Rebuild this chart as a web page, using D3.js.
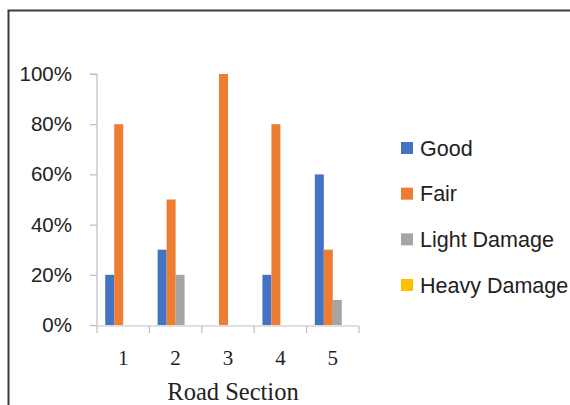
<!DOCTYPE html>
<html>
<head>
<meta charset="utf-8">
<script src="https://cdn.jsdelivr.net/npm/d3@7"></script>
<style>
html,body{margin:0;padding:0;background:#fff;}
svg{display:block;}
</style>
</head>
<body>
<script>
const categories = ["1","2","3","4","5"];
const seriesNames = ["Good","Fair","Light Damage","Heavy Damage"];
const good = [0.20,0.30,0.00,0.20,0.60];
const fair = [0.80,0.50,1.00,0.80,0.30];
const lightDamage = [0.00,0.20,0.00,0.00,0.10];
const heavyDamage = [0.00,0.00,0.00,0.00,0.00];
const yTicks = [0,0.2,0.4,0.6,0.8,1.0];
const colors = ["#4472C4","#ED7D31","#A5A5A5","#FFC000"];
const xTitle = "Road Section";

const seriesValues = [good, fair, lightDamage, heavyDamage];
const W = 570, H = 405;
const svg = d3.select("body").append("svg").attr("width", W).attr("height", H);

// outer frame (top and left visible)
svg.append("path")
  .attr("d", d3.line()([[8.5,H],[8.5,10.5],[W,10.5]]))
  .attr("fill","none").attr("stroke","#3a3a3a").attr("stroke-width",2);

const x = d3.scaleBand().domain(categories).range([97, 359]).padding(0);
const bw = x.bandwidth();
const xi = d3.scaleBand().domain(seriesNames).range([bw*0.157, bw*0.843]).padding(0);
const y = d3.scaleLinear().domain([0,1]).range([325, 74]);

// y axis
const yAxis = svg.append("g").attr("transform","translate(97,0)")
  .call(d3.axisLeft(y).tickValues(yTicks).tickFormat(d3.format(".0%")).tickSize(7).tickPadding(18));
yAxis.select(".domain").attr("stroke","#BFBFBF").attr("stroke-width",1.2)
  .attr("d", `M-7,${y(1)}H0V${y(0)}`);
yAxis.selectAll(".tick line").attr("stroke","#BFBFBF").attr("stroke-width",1.2);
yAxis.selectAll(".tick text").attr("fill","#222").style("font-family","'Liberation Sans', Arial, sans-serif").style("font-size","20.5px");

// bars
const groups = svg.append("g").selectAll("g").data(categories).join("g")
  .attr("transform", d => `translate(${x(d)},0)`);
groups.selectAll("rect")
  .data((c,i) => seriesNames.map((s,j) => ({s, v: seriesValues[j][i], c: colors[j]})))
  .join("rect")
  .attr("x", d => xi(d.s))
  .attr("width", xi.bandwidth())
  .attr("y", d => y(d.v))
  .attr("height", d => y(0) - y(d.v))
  .attr("fill", d => d.c);

// x axis
const xAxisG = svg.append("g").attr("transform",`translate(0,${y(0)+1})`);
xAxisG.append("line").attr("x1",97).attr("x2",359).attr("y1",0).attr("y2",0)
  .attr("stroke","#BFBFBF").attr("stroke-width",1.2);
const boundaries = categories.map(c => x(c)).concat([x(categories[categories.length-1]) + bw]);
xAxisG.selectAll("line.tk").data(boundaries).join("line").attr("class","tk")
  .attr("x1", d=>d).attr("x2", d=>d).attr("y1",0).attr("y2",7)
  .attr("stroke","#BFBFBF").attr("stroke-width",1.2);
xAxisG.selectAll("text").data(categories).join("text")
  .attr("x", d => x(d) + bw/2).attr("y", 39)
  .attr("text-anchor","middle").attr("fill","#222")
  .style("font-family","'Liberation Serif','Times New Roman',serif").style("font-size","21px")
  .text(d => d);

svg.append("text").attr("x", 233).attr("y", 400).attr("text-anchor","middle")
  .attr("fill","#222")
  .style("font-family","'Liberation Serif','Times New Roman',serif").style("font-size","24.5px")
  .text(xTitle);

// legend
const ly = d3.scalePoint().domain(seriesNames).range([148, 285]);
const leg = svg.append("g").selectAll("g").data(seriesNames).join("g")
  .attr("transform", d => `translate(401,${ly(d)})`);
leg.append("rect").attr("x",0).attr("y",-6).attr("width",12).attr("height",12)
  .attr("fill", (d,i) => colors[i]);
leg.append("text").attr("x",19).attr("y",7.5).attr("fill","#222")
  .style("font-family","'Liberation Sans', Arial, sans-serif").style("font-size","21.5px")
  .text(d => d);
</script>
</body>
</html>
